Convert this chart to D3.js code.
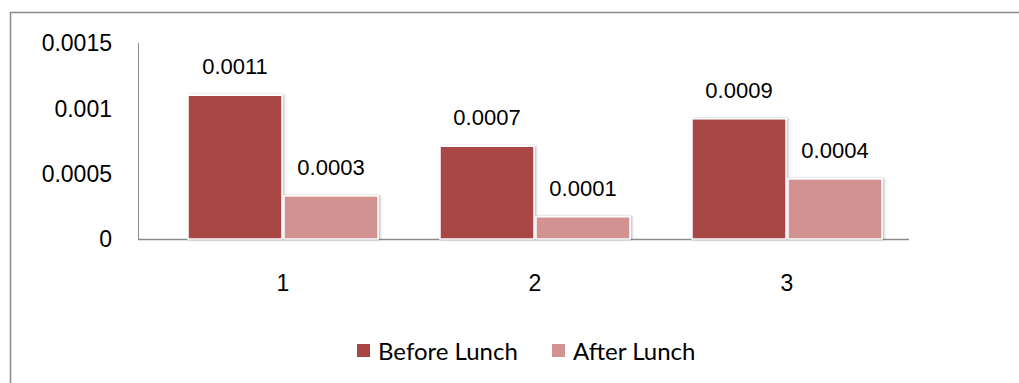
<!DOCTYPE html>
<html><head><meta charset="utf-8">
<script src="https://cdn.jsdelivr.net/npm/d3@7"></script>
<style>body{margin:0;background:#fff}svg{display:block}</style>
</head><body>
<svg id="c" width="1019" height="383"></svg>
<script>
const categories = ["1", "2", "3"];
const seriesNames = ["Before Lunch", "After Lunch"];
const beforeLunch = [0.0011, 0.00071, 0.00092];
const afterLunch = [0.00033, 0.00017, 0.00046];
const beforeLabels = ["0.0011", "0.0007", "0.0009"];
const afterLabels = ["0.0003", "0.0001", "0.0004"];
const yTicks = [0, 0.0005, 0.001, 0.0015];
const yTickLabels = ["0", "0.0005", "0.001", "0.0015"];
const colors = ["#A84644", "#D39292"];

const svg = d3.select("#c");
svg.append("path").attr("d","M10.5,383 L10.5,12.5 L1019,12.5").attr("fill","none").attr("stroke","#8a8a8a").attr("stroke-width",1.5);

const y = d3.scaleLinear().domain([0, 0.0015]).range([239, 43]);
const x = d3.scalePoint().domain(categories).range([283, 787]);
const barW = 94, gap = 2;

svg.append("line").attr("x1",138.5).attr("x2",138.5).attr("y1",y(0.0015)).attr("y2",y(0)).attr("stroke","#8c8c8c").attr("stroke-width",1);
svg.append("line").attr("x1",138).attr("x2",909).attr("y1",y(0)+0.5).attr("y2",y(0)+0.5).attr("stroke","#8c8c8c").attr("stroke-width",1.5);

const font = "Liberation Sans, Arial, sans-serif";
svg.selectAll(".yt").data(yTicks).enter().append("text")
  .attr("x",112).attr("y",d=>y(d)).attr("dy","0.36em").attr("text-anchor","end")
  .attr("font-family",font).attr("font-size",23).attr("fill","#000")
  .text((d,i)=>yTickLabels[i]);

svg.selectAll(".xt").data(categories).enter().append("text")
  .attr("x",d=>x(d)).attr("y",283).attr("dy","0.36em").attr("text-anchor","middle")
  .attr("font-family",font).attr("font-size",23).attr("fill","#000")
  .text(d=>d);

const series = [
  {vals: beforeLunch, labels: beforeLabels, off: -barW - gap/2},
  {vals: afterLunch, labels: afterLabels, off: gap/2}
];
const defs = svg.append("defs");
const f = defs.append("filter").attr("id","sh").attr("x","-10%").attr("y","-10%").attr("width","130%").attr("height","130%");
f.append("feDropShadow").attr("dx",1.5).attr("dy",0).attr("stdDeviation",1.2).attr("flood-color","#000").attr("flood-opacity",0.25);

series.forEach((s,si)=>{
  svg.selectAll(".b"+si).data(categories).enter().append("rect")
    .attr("x",(d)=>x(d)+s.off).attr("width",barW)
    .attr("y",(d,i)=>y(s.vals[i])).attr("height",(d,i)=>y(0)-y(s.vals[i]))
    .attr("fill",colors[si]).attr("stroke","#fff").attr("stroke-width",1.5)
    .attr("filter","url(#sh)");
  svg.selectAll(".l"+si).data(categories).enter().append("text")
    .attr("x",d=>x(d)+s.off+barW/2).attr("y",(d,i)=>y(s.vals[i])-29).attr("dy","0.36em")
    .attr("text-anchor","middle")
    .attr("font-family",font).attr("font-size",22).attr("fill","#000")
    .text((d,i)=>s.labels[i]);
});

const legX = [357, 552];
seriesNames.forEach((n,i)=>{
  svg.append("rect").attr("x",legX[i]).attr("y",344).attr("width",13).attr("height",13).attr("fill",colors[i]);
  svg.append("text").attr("x",legX[i]+21).attr("y",360)
    .attr("font-family","Lato, 'Open Sans', sans-serif").attr("font-size",24).attr("fill","#000").text(n);
});
</script>
</body></html>
